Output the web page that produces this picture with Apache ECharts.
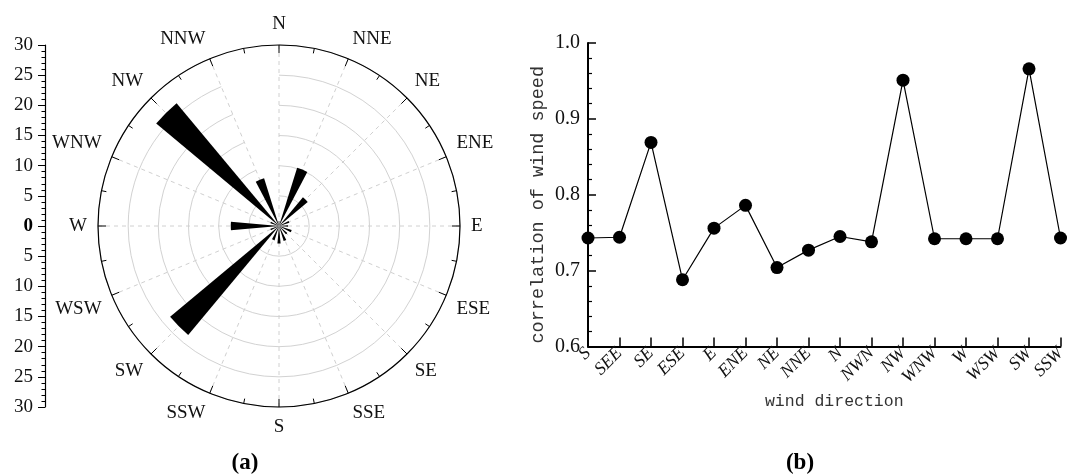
<!DOCTYPE html>
<html>
<head>
<meta charset="utf-8">
<script src="https://cdn.jsdelivr.net/npm/echarts@6/dist/echarts.min.js"></script>
<style>
  html, body { margin: 0; padding: 0; background: #fff; }
  #chart { width: 1069px; height: 476px; }
</style>
</head>
<body>
<div id="chart"></div>
<script>
// (a) wind rose: frequency per sector, clockwise from north
const roseDirections = ['N', 'NNE', 'NE', 'ENE', 'E', 'ESE', 'SE', 'SSE',
                        'S', 'SSW', 'SW', 'WSW', 'W', 'WNW', 'NW', 'NNW'];
const roseFrequency = [0.8, 10.1, 6.2, 1.8, 1.5, 2.2, 1.8, 2.6,
                       2.9, 2.5, 23.5, 1.5, 8.0, 1.5, 26.5, 8.3];
const roseMax = 30;
const roseStep = 5;

// (b) correlation of wind speed by direction
const corrDirections = ['S', 'SEE', 'SE', 'ESE', 'E', 'ENE', 'NE', 'NNE',
                        'N', 'NWN', 'NW', 'WNW', 'W', 'WSW', 'SW', 'SSW'];
const corrValues = [0.743, 0.744, 0.869, 0.688, 0.756, 0.786, 0.704, 0.727,
                    0.745, 0.738, 0.951, 0.742, 0.742, 0.742, 0.966, 0.743];
const corrMin = 0.6;
const corrMax = 1.0;
const corrStep = 0.1;

const serif = 'Liberation Serif';
const mono = 'Liberation Mono';
const center = [279, 226];
const radius = 181;

const chart = echarts.init(document.getElementById('chart'), null, { renderer: 'canvas' });

chart.setOption({
  animation: false,
  backgroundColor: '#fff',
  polar: [
    { center: center, radius: radius },
    { center: center, radius: radius }
  ],
  angleAxis: [
    {
      // sectors for the bars, dashed spokes
      polarIndex: 0,
      type: 'category',
      data: roseDirections,
      boundaryGap: false,
      startAngle: 90,
      clockwise: true,
      z: 1,
      axisLine: { show: false },
      axisTick: { show: false },
      axisLabel: { show: false },
      splitLine: { show: true, lineStyle: { color: '#d0d0d0', width: 1, type: [4, 4] } }
    },
    {
      // outer compass ring with ticks and direction names
      polarIndex: 1,
      type: 'value',
      min: 0,
      max: 360,
      interval: 22.5,
      startAngle: 90,
      clockwise: true,
      z: 5,
      axisLine: { show: true, lineStyle: { color: '#000', width: 1.2 } },
      axisTick: { show: true, inside: true, length: 8, lineStyle: { color: '#000', width: 1 } },
      minorTick: { show: true, splitNumber: 2, length: 5, lineStyle: { color: '#000', width: 1 } },
      splitLine: { show: false },
      axisLabel: {
        margin: 11,
        formatter: v => roseDirections[Math.round(v / 22.5) % roseDirections.length],
        fontFamily: serif,
        fontSize: 19,
        color: '#111'
      }
    }
  ],
  radiusAxis: [
    {
      polarIndex: 0,
      type: 'value',
      min: 0,
      max: roseMax,
      interval: roseStep,
      z: 1,
      axisLine: { show: false },
      axisTick: { show: false },
      axisLabel: { show: false },
      splitLine: { show: true, lineStyle: { color: '#d2d2d2', width: 1 } }
    },
    {
      polarIndex: 1,
      type: 'value',
      min: 0,
      max: roseMax,
      show: false
    }
  ],
  grid: [
    { left: 45, top: 45, width: 10, height: 362 },
    { left: 588, top: 43, width: 474, height: 303.5 }
  ],
  xAxis: [
    { gridIndex: 0, type: 'value', min: 0, max: 1, show: false },
    {
      gridIndex: 1,
      type: 'category',
      data: corrDirections,
      boundaryGap: false,
      axisLine: { show: true, lineStyle: { color: '#000', width: 2 } },
      axisTick: { show: true, inside: true, length: 9, interval: 0, lineStyle: { color: '#000', width: 1.5 } },
      splitLine: { show: false },
      axisLabel: {
        rotate: 45,
        interval: 0,
        margin: 4,
        fontFamily: serif,
        fontStyle: 'italic',
        fontSize: 18,
        color: '#111'
      },
      name: 'wind direction',
      nameLocation: 'middle',
      nameGap: 45,
      nameTextStyle: { fontFamily: mono, fontSize: 16.5, color: '#333', padding: [0, 0, 0, 20] }
    }
  ],
  yAxis: [
    {
      // scale for the rose radius, mirrored about the centre
      gridIndex: 0,
      type: 'value',
      min: -roseMax,
      max: roseMax,
      interval: roseStep,
      axisLine: { show: true, lineStyle: { color: '#000', width: 1.2 } },
      axisTick: { show: true, length: 7, lineStyle: { color: '#000', width: 1 } },
      minorTick: { show: true, splitNumber: 5, length: 3.5, lineStyle: { color: '#000', width: 1 } },
      splitLine: { show: false },
      axisLabel: {
        margin: 12,
        fontFamily: serif,
        fontSize: 19,
        color: '#111',
        formatter: v => (v === 0 ? '{z|0}' : String(Math.abs(v))),
        rich: { z: { fontFamily: serif, fontSize: 19, fontWeight: 'bold', color: '#000' } }
      }
    },
    {
      gridIndex: 1,
      type: 'value',
      min: corrMin,
      max: corrMax,
      interval: corrStep,
      axisLine: { show: true, lineStyle: { color: '#000', width: 2 } },
      axisTick: { show: true, inside: true, length: 8, lineStyle: { color: '#000', width: 1.5 } },
      minorTick: { show: true, splitNumber: 5, length: 4, lineStyle: { color: '#000', width: 1.2 } },
      splitLine: { show: false },
      axisLabel: {
        margin: 8,
        formatter: v => v.toFixed(1),
        fontFamily: serif,
        fontSize: 20,
        color: '#111'
      },
      name: 'correlation of wind speed',
      nameLocation: 'middle',
      nameRotate: 90,
      nameGap: 40,
      nameTextStyle: { fontFamily: mono, fontSize: 18.5, color: '#333', padding: [0, 20, 0, 0] }
    }
  ],
  series: [
    {
      name: 'frequency',
      type: 'bar',
      coordinateSystem: 'polar',
      polarIndex: 0,
      data: roseFrequency,
      barWidth: '46%',
      z: 3,
      itemStyle: { color: '#000' }
    },
    {
      name: 'correlation',
      type: 'line',
      xAxisIndex: 1,
      yAxisIndex: 1,
      data: corrValues,
      symbol: 'circle',
      symbolSize: 13,
      lineStyle: { color: '#000', width: 1.2 },
      itemStyle: { color: '#000' }
    }
  ],
  graphic: [
    {
      type: 'text',
      x: 245, y: 463,
      style: { text: '(a)', fill: '#000', font: 'bold 23px "Liberation Serif"', textAlign: 'center', textVerticalAlign: 'middle' }
    },
    {
      type: 'text',
      x: 800, y: 463,
      style: { text: '(b)', fill: '#000', font: 'bold 23px "Liberation Serif"', textAlign: 'center', textVerticalAlign: 'middle' }
    }
  ]
});
</script>
</body>
</html>
